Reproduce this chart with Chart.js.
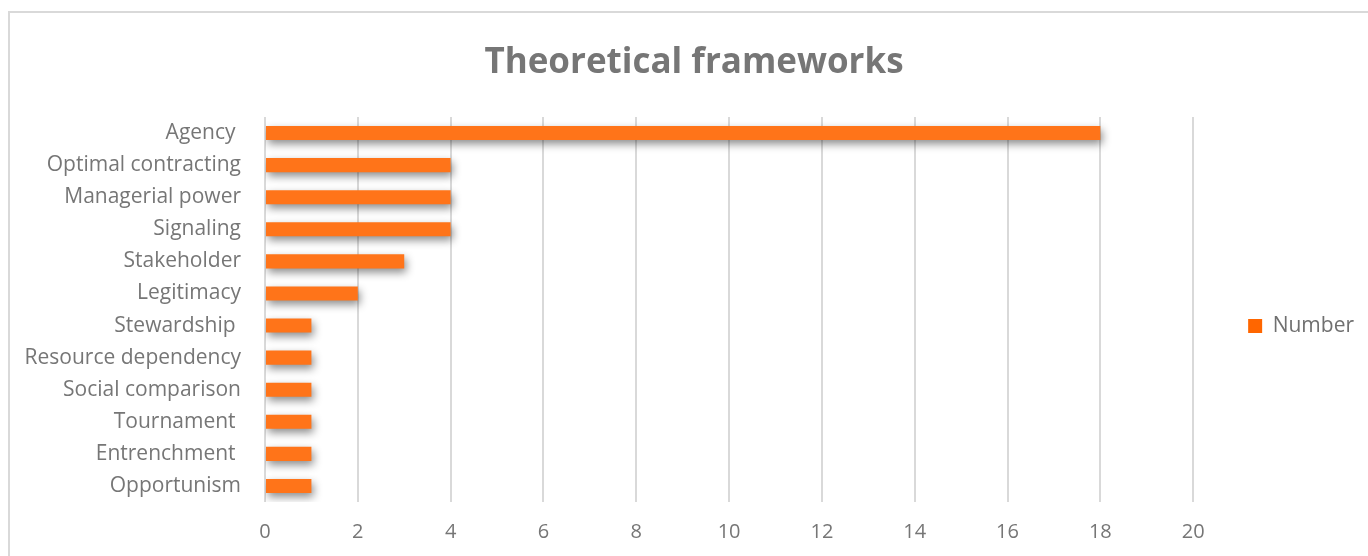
<!DOCTYPE html>
<html>
<head>
<meta charset="utf-8">
<script src="https://cdn.jsdelivr.net/npm/chart.js@4/dist/chart.umd.min.js"></script>
<style>
html,body{margin:0;padding:0;background:#fff;}
#wrap{position:relative;width:1368px;height:556px;}
</style>
</head>
<body>
<div id="wrap"><canvas id="c" width="1368" height="556"></canvas></div>
<script>
const categories = ["Agency ", "Optimal contracting", "Managerial power", "Signaling", "Stakeholder", "Legitimacy", "Stewardship ", "Resource dependency", "Social comparison", "Tournament ", "Entrenchment ", "Opportunism"];
const numberValues = [18, 4, 4, 4, 3, 2, 1, 1, 1, 1, 1, 1];
const xTicks = [0, 2, 4, 6, 8, 10, 12, 14, 16, 18, 20];
const titleText = "Theoretical frameworks";
const seriesName = "Number";

const textColor = "#767676";
const fontFamily = "'Open Sans', 'Noto Sans', sans-serif";

const frame = {
  id: 'frame',
  beforeDraw(chart) {
    const ctx = chart.ctx;
    ctx.save();
    ctx.fillStyle = '#fff';
    ctx.fillRect(0, 0, chart.width, chart.height);
    ctx.strokeStyle = '#d9d9d9';
    ctx.lineWidth = 2;
    ctx.strokeRect(9, 12, chart.width + 20, chart.height + 20);
    ctx.restore();
  }
};
const shadow = {
  id: 'shadow',
  beforeDatasetsDraw(chart) {
    const ctx = chart.ctx;
    ctx.save();
    ctx.shadowColor = 'rgba(0,0,0,0.45)';
    ctx.shadowBlur = 8;
    ctx.shadowOffsetX = 2;
    ctx.shadowOffsetY = 4;
  },
  afterDatasetsDraw(chart) {
    chart.ctx.restore();
  }
};
const blockShift = {
  id: 'blockShift',
  afterLayout(chart) {
    const lg = chart.legend;
    if (lg) {
      const dy = 326 - (lg.top + lg.bottom) / 2;
      lg.top += dy; lg.bottom += dy;
      lg.left += 28; lg.right += 28;
    }
    const tb = chart.titleBlock;
    if (tb) {
      const dx = 694 - (tb.left + tb.right) / 2;
      tb.left += dx; tb.right += dx;
    }
  }
};

const ctx = document.getElementById('c').getContext('2d');
new Chart(ctx, {
  type: 'bar',
  data: {
    labels: categories,
    datasets: [{
      label: seriesName,
      data: numberValues,
      backgroundColor: (c) => {
        const chart = c.chart;
        if (!chart.chartArea) return '#ff7419';
        const meta = c.chart.getDatasetMeta(0);
        const bar = meta.data[c.dataIndex];
        if (!bar || bar.height === undefined || isNaN(bar.y)) return '#ff7419';
        const h = bar.height || 14;
        const g = chart.ctx.createLinearGradient(0, bar.y - h / 2, 0, bar.y + h / 2);
        g.addColorStop(0, '#ff8838');
        g.addColorStop(1, '#ff6600');
        return g;
      },
      borderWidth: 0,
      barPercentage: 0.9,
      categoryPercentage: 0.49
    }]
  },
  options: {
    indexAxis: 'y',
    responsive: false,
    animation: false,
    layout: { padding: { left: 0, right: 32, top: 42, bottom: 0 } },
    plugins: {
      title: {
        display: true,
        text: titleText,
        color: textColor,
        font: { family: fontFamily, size: 35, weight: 'bold' },
        padding: { top: 0, bottom: 33 }
      },
      legend: {
        display: true,
        position: 'right',
        labels: {
          color: '#707070',
          boxWidth: 14,
          boxHeight: 14,
          padding: 27,
          font: { family: fontFamily, size: 21 }
        }
      },
      tooltip: { enabled: false }
    },
    scales: {
      x: {
        min: 0,
        max: 20,
        afterBuildTicks(scale) { scale.ticks = xTicks.map(v => ({ value: v })); },
        afterFit(scale) { scale.height = 54; },
        grid: { color: '#d9d9d9', lineWidth: 2, drawTicks: false },
        border: { display: false },
        ticks: { color: textColor, font: { family: fontFamily, size: 20 }, padding: 18 }
      },
      y: {
        afterFit(scale) { scale.width = 265; },
        grid: { display: false, drawTicks: false },
        border: { display: false },
        ticks: { color: textColor, font: { family: fontFamily, size: 21 }, padding: 24 }
      }
    }
  },
  plugins: [frame, shadow, blockShift]
});
</script>
</body>
</html>
